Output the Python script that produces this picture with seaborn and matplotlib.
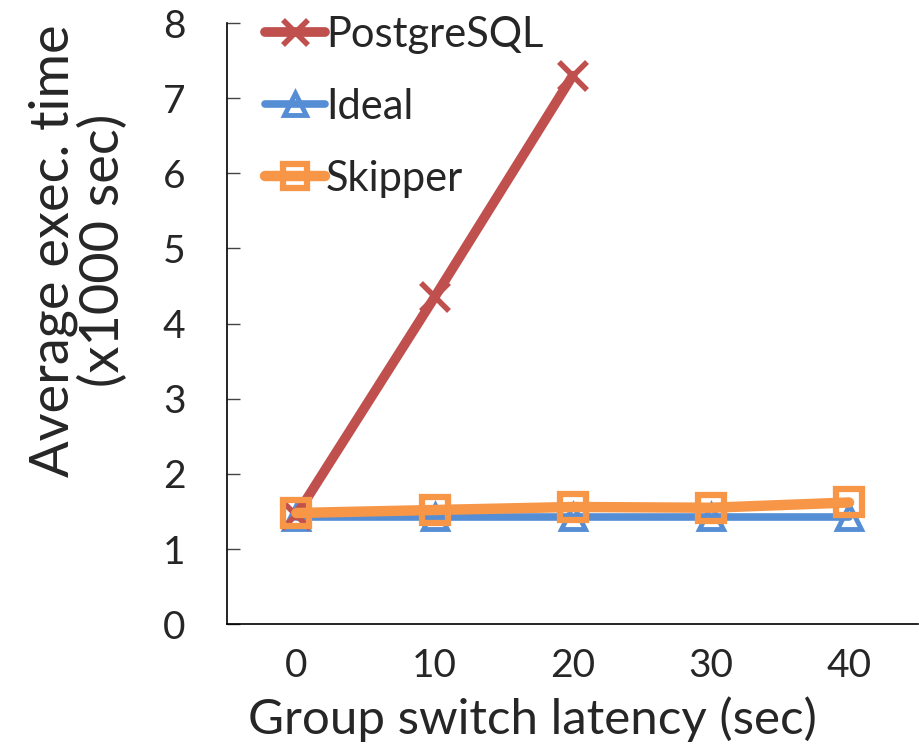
import numpy as np
import pandas as pd
import seaborn as sns
import matplotlib
matplotlib.use("Agg")
import matplotlib.pyplot as plt
from matplotlib.lines import Line2D

# Data (execution time in thousands of seconds)
latency = [0, 10, 20, 30, 40]
postgresql = [1.45, 4.35, 7.30, np.nan, np.nan]
ideal = [1.43, 1.43, 1.43, 1.43, 1.43]
skipper = [1.48, 1.52, 1.56, 1.55, 1.62]
series_names = ["PostgreSQL", "Ideal", "Skipper"]
y_ticks = [0, 1, 2, 3, 4, 5, 6, 7, 8]

df = pd.DataFrame({
    "latency": latency * 3,
    "time": postgresql + ideal + skipper,
    "system": [n for n in series_names for _ in latency],
})

sns.set_theme(style="white")
plt.rcParams["font.family"] = ["Lato", "DejaVu Sans"]

colors = {"PostgreSQL": "#C0504D", "Ideal": "#558ED5", "Skipper": "#F79646"}
styles = {
    "PostgreSQL": dict(marker="x", ms=20, mew=4, lw=7, zorder=3),
    "Ideal": dict(marker="^", ms=17, mew=3.5, lw=5.5, zorder=2),
    "Skipper": dict(marker="s", ms=19, mew=4.5, lw=7.5, zorder=4),
}

fig = plt.figure(figsize=(9.2, 7.44), dpi=100)
ax = fig.add_axes([0.247, 0.161, 0.751, 0.808])

for name in ["Ideal", "PostgreSQL", "Skipper"]:
    st = styles[name]
    sub = df[df["system"] == name].dropna()
    sns.lineplot(data=sub, x="latency", y="time", ax=ax, color=colors[name],
                 marker=st["marker"], markersize=st["ms"], markeredgewidth=st["mew"],
                 markeredgecolor=colors[name], markerfacecolor="none",
                 linewidth=st["lw"], zorder=st["zorder"], legend=False,
                 solid_capstyle="round")

ax.set_xlim(-5, 45)
ax.set_ylim(0, 8)
ax.set_xticks(latency)
ax.set_xticklabels([str(v) for v in latency])
ax.set_yticks(y_ticks)
ax.set_yticklabels([str(v) for v in y_ticks])

for side in ["top", "right"]:
    ax.spines[side].set_visible(False)
for side in ["left", "bottom"]:
    ax.spines[side].set_color("black")
    ax.spines[side].set_linewidth(1.2)

ax.tick_params(axis="y", direction="in", length=9, width=1.0, color="#444444",
               labelsize=28, pad=30, left=True)
ax.tick_params(axis="x", length=0, labelsize=28, pad=17)

ax.set_xlabel("Group switch latency (sec)", fontsize=35.5)
ax.xaxis.set_label_coords(0.442, -0.158)
ax.xaxis.label.set_va("center")
ax.set_ylabel("Average exec. time\n(x1000 sec)", fontsize=39, linespacing=1.0)
ax.yaxis.set_label_coords(-0.216, 0.622)
ax.yaxis.label.set_va("center")

handles = []
for name in series_names:
    st = styles[name]
    handles.append(Line2D([], [], color=colors[name], marker=st["marker"],
                          markersize=st["ms"] * 0.9, markeredgewidth=st["mew"],
                          markerfacecolor="none", linewidth=st["lw"],
                          solid_capstyle="round"))
ax.legend(handles, series_names, loc="upper left", bbox_to_anchor=(0.03, 1.04),
          frameon=False, fontsize=30, handlelength=1.45, handletextpad=0.02,
          labelspacing=0.82, borderaxespad=0.0)

fig.savefig("out.png", dpi=100)
